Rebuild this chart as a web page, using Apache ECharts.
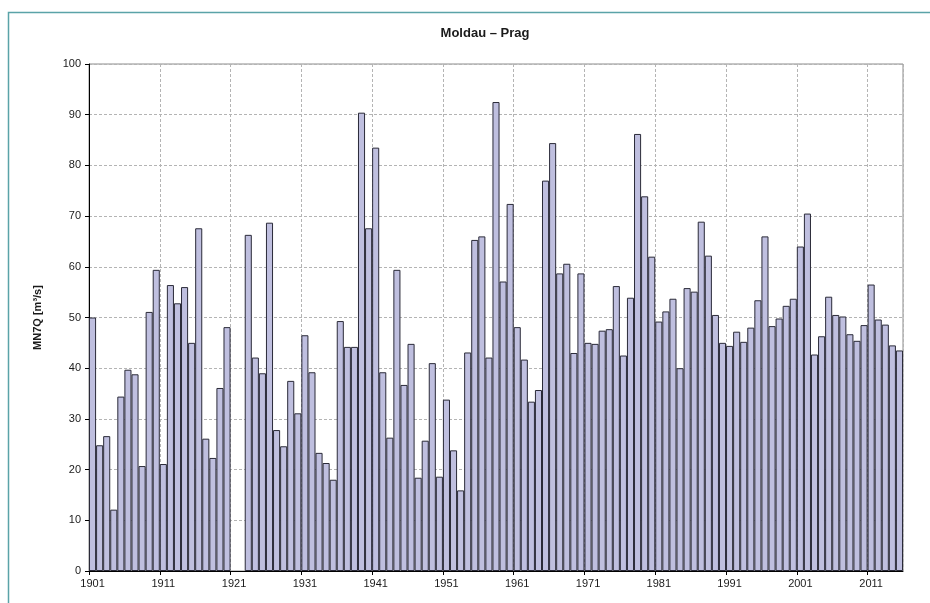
<!DOCTYPE html>
<html>
<head>
<meta charset="utf-8">
<title>Moldau – Prag</title>
<script src="https://cdn.jsdelivr.net/npm/echarts@6/dist/echarts.min.js"></script>
<style>
  html, body { margin: 0; padding: 0; background: #fff; }
  #chart { width: 930px; height: 603px; }
</style>
</head>
<body>
<div id="chart"></div>
<script>
// Annual MN7Q values (m³/s) for the Moldau at Prag, 1901–2015; null = no record
const firstYear = 1901;
const lastYear = 2015;
const years = [];
for (let y = firstYear; y <= lastYear; y++) years.push(String(y));

const values1901_1920 = [50.0, 24.8, 26.6, 12.1, 34.4, 39.7, 38.8, 20.7, 51.1, 59.4,
                         21.1, 56.4, 52.8, 56.0, 45.0, 67.6, 26.1, 22.3, 36.1, 48.1];
const values1921_1940 = [null, null, 66.3, 42.1, 39.0, 68.7, 27.8, 24.6, 37.5, 31.1,
                         46.5, 39.2, 23.3, 21.3, 18.0, 49.3, 44.2, 44.2, 90.4, 67.6];
const values1941_1960 = [83.5, 39.2, 26.3, 59.4, 36.7, 44.8, 18.4, 25.7, 41.0, 18.6,
                         33.8, 23.8, 15.9, 43.1, 65.3, 66.0, 42.1, 92.5, 57.1, 72.4];
const values1961_1980 = [48.1, 41.7, 33.4, 35.7, 77.0, 84.4, 58.7, 60.6, 43.0, 58.7,
                         45.0, 44.8, 47.4, 47.7, 56.2, 42.5, 53.9, 86.2, 73.9, 62.0];
const values1981_2000 = [49.2, 51.2, 53.7, 40.0, 55.8, 55.1, 68.9, 62.2, 50.5, 45.0,
                         44.4, 47.2, 45.2, 48.0, 53.4, 66.0, 48.3, 49.8, 52.3, 53.7];
const values2001_2015 = [64.0, 70.5, 42.7, 46.3, 54.1, 50.5, 50.2, 46.7, 45.4, 48.5,
                         56.5, 49.6, 48.6, 44.5, 43.5];

const mn7q = [].concat(values1901_1920, values1921_1940, values1941_1960,
                       values1961_1980, values1981_2000, values2001_2015);

// Decade tick positions (left edge of each labelled year)
const decadeTicks = [1901, 1911, 1921, 1931, 1941, 1951, 1961, 1971, 1981, 1991, 2001, 2011];

const yTicks = { min: 0, max: 100, interval: 10 };

const everyTenth = (index) => index % 10 === 0;
const font = 'Liberation Sans, Arial, sans-serif';
const gridDash = { color: '#b4b4b4', type: [3, 2], width: 1 };

const chart = echarts.init(document.getElementById('chart'), null, { renderer: 'canvas' });

chart.setOption({
  animation: false,
  backgroundColor: '#ffffff',
  title: {
    text: 'Moldau – Prag',
    left: 480,
    top: 22,
    textAlign: 'center',
    textStyle: { fontFamily: font, fontSize: 13, fontWeight: 'bold', color: '#1a1a1a' }
  },
  graphic: [{
    type: 'rect',
    shape: { x: 8.5, y: 12.5, width: 940, height: 620 },
    style: { fill: 'none', stroke: '#5aa3a8', lineWidth: 1.5 },
    silent: true,
    z: 0
  }],
  grid: {
    left: 89,
    right: 27,
    top: 64,
    bottom: 32,
    show: true,
    borderColor: '#8c8c8c',
    borderWidth: 1,
    backgroundColor: 'transparent'
  },
  xAxis: [{
    type: 'category',
    data: years,
    boundaryGap: true,
    axisLine: { show: true, lineStyle: { color: '#000', width: 1 } },
    axisTick: { show: false },
    axisLabel: {
      interval: everyTenth,
      margin: 7,
      fontFamily: font,
      fontSize: 11,
      color: '#1a1a1a'
    },
    splitLine: { show: true, interval: everyTenth, lineStyle: gridDash }
  }, {
    // year scale used only for the decade tick marks below the axis
    type: 'value',
    position: 'bottom',
    min: firstYear,
    max: lastYear + 1,
    axisLine: { show: false },
    axisLabel: { show: false },
    splitLine: { show: false },
    axisTick: {
      show: true,
      length: 4,
      customValues: decadeTicks,
      lineStyle: { color: '#000' }
    }
  }],
  yAxis: {
    type: 'value',
    min: yTicks.min,
    max: yTicks.max,
    interval: yTicks.interval,
    name: 'MN7Q [m³/s]',
    nameLocation: 'middle',
    nameGap: 46,
    nameTextStyle: { fontFamily: font, fontSize: 11, fontWeight: 'bold', color: '#1a1a1a' },
    axisLine: { show: true, lineStyle: { color: '#000', width: 1 } },
    axisTick: { show: true, length: 4, lineStyle: { color: '#000' } },
    axisLabel: { margin: 8, fontFamily: font, fontSize: 11, color: '#1a1a1a' },
    splitLine: { show: true, lineStyle: gridDash }
  },
  series: [{
    type: 'bar',
    xAxisIndex: 0,
    data: mn7q,
    barWidth: '100%',
    barCategoryGap: '0%',
    itemStyle: { color: '#bfbfdf', borderColor: '#2a2a38', borderWidth: 1 },
    z: 2
  }]
});
</script>
</body>
</html>
